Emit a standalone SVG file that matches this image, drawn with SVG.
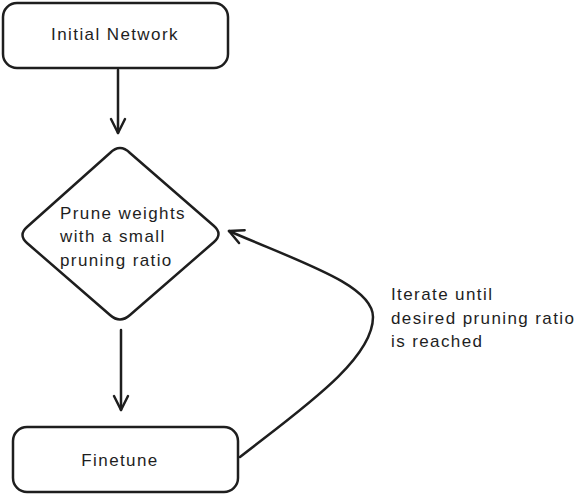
<svg xmlns="http://www.w3.org/2000/svg" width="585" height="495" viewBox="0 0 585 495">
<defs>
<style>
.box{fill:#fff;stroke:#1e1e1e;stroke-width:2.5;stroke-linejoin:round}
.edge{fill:none;stroke:#1e1e1e;stroke-width:2.5;stroke-linecap:round}
text{font-family:"Liberation Sans",Arial,sans-serif;font-size:17px;fill:#1e1e1e;letter-spacing:1.4px}
</style>
<marker id="arr" viewBox="0 0 20 20" refX="18" refY="10" markerWidth="20" markerHeight="20" markerUnits="userSpaceOnUse" orient="auto">
<polyline points="4,3 18,10 4,17" fill="none" stroke="#1e1e1e" stroke-width="2.5" stroke-linecap="round" stroke-linejoin="round"/>
</marker>
</defs>
<rect width="585" height="495" fill="#fff"/>
<g id="initial">
<rect class="box" x="3" y="3" width="225" height="65" rx="14"/>
<text x="115" y="40" text-anchor="middle">Initial Network</text>
</g>
<g id="prune">
<path class="box" d="M110,153 Q120,143 130,153 L214,226 Q223,234 214,242 L130,315 Q120,324 110,315 L27,243 Q18,235 27,227 Z"/>
<text x="60" y="219">Prune weights</text>
<text x="60" y="242">with a small</text>
<text x="60" y="266">pruning ratio</text>
</g>
<g id="finetune">
<rect class="box" x="13" y="427" width="225" height="65" rx="14"/>
<text x="120" y="466" text-anchor="middle">Finetune</text>
</g>
<g id="label">
<text x="391" y="300">Iterate until</text>
<text x="391" y="324">desired pruning ratio</text>
<text x="391" y="347">is reached</text>
</g>
<g id="connectors">
<path class="edge" d="M118,70 L118,133" marker-end="url(#arr)"/>
<path class="edge" d="M121,330 L121,410" marker-end="url(#arr)"/>
<path class="edge" d="M240,457 C300,410 373,360 373,317 C373,285 300,262 229,231" marker-end="url(#arr)"/>
</g>
</svg>
